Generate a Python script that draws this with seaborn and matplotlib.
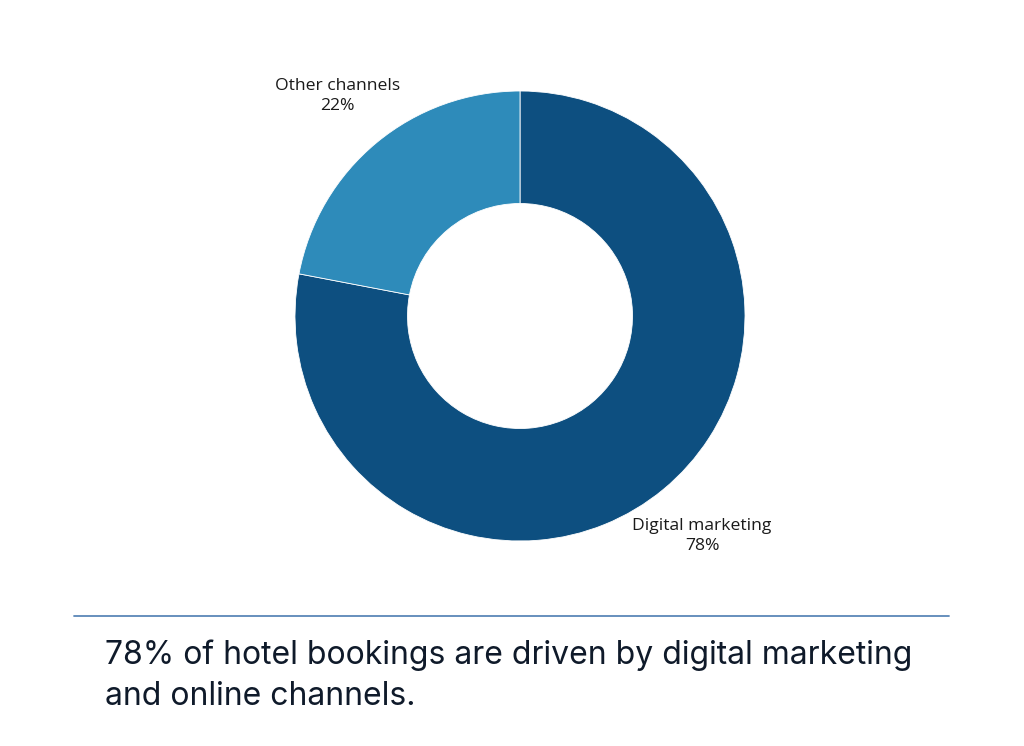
import numpy as np
import matplotlib.pyplot as plt
import seaborn as sns

# data
labels = ['Digital marketing', 'Other channels']
shares = [78, 22]
colors = ['#0d4f80', '#2e8bba']
caption = '78% of hotel bookings are driven by digital marketing\nand online channels.'

sns.set_theme(style='white')
plt.rcParams['font.family'] = ['Open Sans', 'DejaVu Sans']

W, H = 1024, 746
fig = plt.figure(figsize=(W / 100, H / 100), dpi=100)
fig.patch.set_facecolor('white')

# donut axes, centred at (520, 316) px from top-left
cx, cy, half = 520, 316, 300
ax = fig.add_axes([(cx - half) / W, (H - cy - half) / H, 2 * half / W, 2 * half / H])
R = 225
wedges, _ = ax.pie(shares, colors=colors, radius=R, startangle=90, counterclock=False,
                   wedgeprops=dict(width=R * 0.5, edgecolor='white', linewidth=0.6))
ax.set_xlim(-half, half)
ax.set_ylim(-half, half)
ax.set_aspect('equal')
ax.axis('off')

for w, lab, val in zip(wedges, labels, shares):
    mid = np.deg2rad((w.theta1 + w.theta2) / 2)
    d = R * 1.27
    ax.text(d * np.cos(mid), d * np.sin(mid), f'{lab}\n{val}%', ha='center', va='center',
            fontsize=12.6, color='#1a1a1a', linespacing=1.3)

# separator line and caption
fig.add_artist(plt.Line2D([74 / W, 949 / W], [1 - 616 / H, 1 - 616 / H],
                          color='#5b87b8', linewidth=1.3))
fig.text(105 / W, 1 - 676 / H, caption, ha='left', va='center', fontsize=23,
         color='#0f1a2a', family=['Inter', 'DejaVu Sans'], linespacing=1.4)

fig.savefig('out.png', dpi=100, facecolor='white')
